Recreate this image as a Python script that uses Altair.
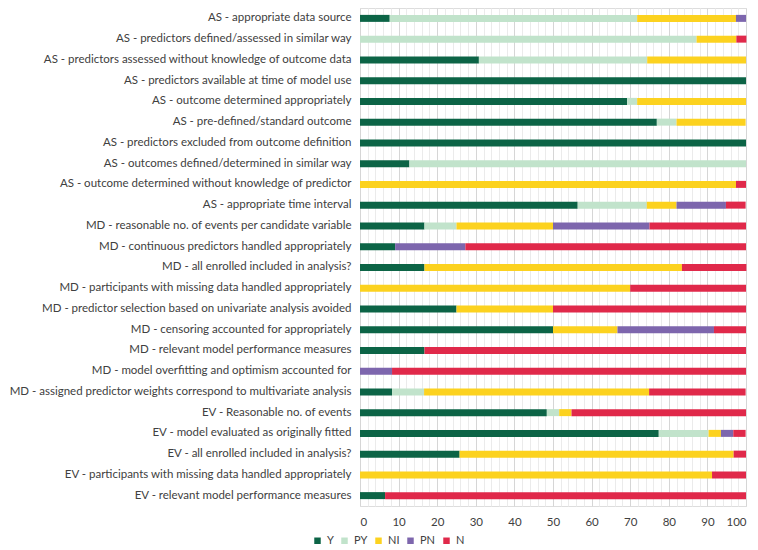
import altair as alt
import pandas as pd

categories = [
    "AS - appropriate data source",
    "AS - predictors defined/assessed in similar way",
    "AS - predictors assessed without knowledge of outcome data",
    "AS - predictors available at time of model use",
    "AS - outcome determined appropriately",
    "AS - pre-defined/standard outcome",
    "AS - predictors excluded from outcome definition",
    "AS - outcomes defined/determined in similar way",
    "AS - outcome determined without knowledge of predictor",
    "AS - appropriate time interval ",
    "MD - reasonable no. of events per candidate variable",
    "MD - continuous predictors handled appropriately",
    "MD - all enrolled included in analysis?",
    "MD - participants with missing data handled appropriately",
    "MD - predictor selection based on univariate analysis avoided",
    "MD - censoring accounted for appropriately",
    "MD - relevant model performance measures",
    "MD - model overfitting and optimism accounted for",
    "MD - assigned predictor weights correspond to multivariate analysis",
    "EV - Reasonable no. of events ",
    "EV - model evaluated as originally fitted",
    "EV - all enrolled included in analysis?",
    "EV - participants with missing data handled appropriately",
    "EV - relevant model performance measures",
]

series = ["Y", "PY", "NI", "PN", "N"]
colors = ["#0c6446", "#c1e3cb", "#fcd21f", "#7d66ad", "#e0294a"]

Y  = [7.7, 0, 30.8, 100, 69.2, 76.9, 100, 12.8, 0, 56.4, 16.7, 9.1, 16.7, 0, 25.0, 50.0, 16.7, 0, 8.3, 48.4, 77.4, 25.8, 0, 6.5]
PY = [64.1, 87.2, 43.6, 0, 2.6, 5.1, 0, 87.2, 0, 17.9, 8.3, 0, 0, 0, 0, 0, 0, 0, 8.3, 3.2, 12.9, 0, 0, 0]
NI = [25.6, 10.3, 25.6, 0, 28.2, 17.9, 0, 0, 97.4, 7.7, 25.0, 0, 66.7, 70.0, 25.0, 16.7, 0, 0, 58.3, 3.2, 3.2, 71.0, 91.2, 0]
PN = [2.6, 0, 0, 0, 0, 0, 0, 0, 0, 12.8, 25.0, 18.2, 0, 0, 0, 25.0, 0, 8.3, 0, 0, 3.2, 0, 0, 0]
N  = [0, 2.6, 0, 0, 0, 0, 0, 0, 2.6, 5.1, 25.0, 72.7, 16.7, 30.0, 50.0, 8.3, 83.3, 91.7, 25.0, 45.2, 3.2, 3.2, 8.8, 93.5]

rows = []
for s_i, (s, vals) in enumerate(zip(series, [Y, PY, NI, PN, N])):
    for c, v in zip(categories, vals):
        rows.append({"cat": c, "series": s, "value": v, "ord": s_i})
df = pd.DataFrame(rows)

font = "Lato"
chart = alt.Chart(df).mark_bar(size=7).encode(
    y=alt.Y("cat:N", sort=categories, title=None,
            axis=alt.Axis(labelLimit=420, ticks=False, domain=False, labelPadding=9,
                          labelFontSize=11.5, labelColor="#404040", labelFont=font)),
    x=alt.X("value:Q", stack="zero", title=None,
            scale=alt.Scale(domain=[0, 100], nice=False),
            axis=alt.Axis(values=list(range(0, 101, 2)),
                          labelExpr="datum.value % 10 === 0 ? datum.label : ''",
                          ticks=False, domain=False, labelPadding=10,
                          labelFontSize=11.5, labelColor="#404040", labelFont=font,
                          gridColor={"condition": {"test": "datum.value % 10 === 0", "value": "#d6d6d6"}, "value": "#ebebeb"})),
    color=alt.Color("series:N", sort=series,
                    scale=alt.Scale(domain=series, range=colors),
                    legend=alt.Legend(title=None, orient="none", direction="horizontal",
                                      legendX=-48, legendY=527, symbolType="square",
                                      symbolSize=42, labelFontSize=11, labelFont=font,
                                      labelOffset=4, columnPadding=5,
                                      labelColor="#404040", symbolStrokeWidth=0)),
    order=alt.Order("ord:Q"),
).properties(width=386, height=498).configure_view(stroke=None).configure(padding={"left": 0, "top": 0, "right": 0, "bottom": 0})

chart.save("out.html", embed_options={"renderer": "svg", "actions": False})
